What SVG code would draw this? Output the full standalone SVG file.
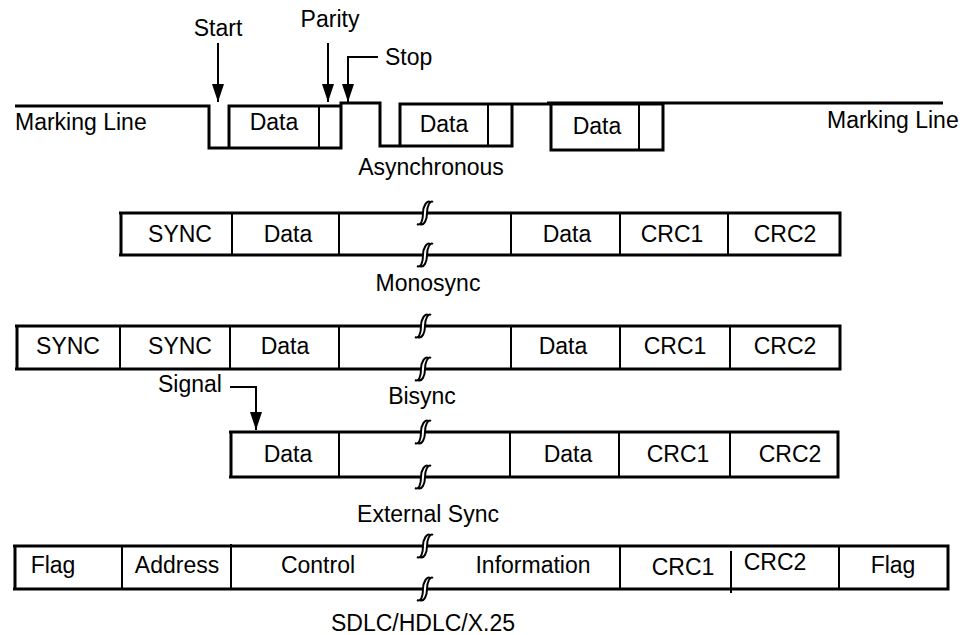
<svg xmlns="http://www.w3.org/2000/svg" width="965" height="635" viewBox="0 0 965 635">
<defs>
<style>
text{font-family:"Liberation Sans",Arial,sans-serif;font-size:23px;fill:#000}
.m{text-anchor:middle}
.w{fill:none;stroke:#000;stroke-width:3}
.f{fill:none;stroke:#000;stroke-width:3}
.d{fill:none;stroke:#000;stroke-width:2}
.a{fill:none;stroke:#000;stroke-width:2}
</style>
<marker id="ah" markerUnits="userSpaceOnUse" markerWidth="18" markerHeight="12" refX="18" refY="6" orient="auto" viewBox="0 0 18 12">
<path d="M0,0 L18,6 L0,12 Z" fill="#000"/>
</marker>
<g id="brk">
<path d="M-8,11 C-4,13 -2,7 -2,0 C-2,-7 2,-13 5,-11 L8,-11 C5,-13 2,-7 2,0 C2,7 -1,13 -5,11 Z" fill="#fff"/>
<path d="M-8,11 C-4,13 -2,7 -2,0 C-2,-7 2,-13 5,-11 M-5,11 C-1,13 2,7 2,0 C2,-7 5,-13 8,-11" fill="none" stroke="#000" stroke-width="2"/>
</g>
</defs>
<rect width="965" height="635" fill="#fff"/>

<g id="async">
<path class="w" d="M15,106 H209 V148 H341 V103 H380 V146 H400"/>
<path class="w" d="M229,148 V106 H341"/>
<path class="d" d="M319,106 V148"/>
<path class="w" d="M400,146 V104 H663 M400,146 H512 V104"/>
<path class="d" d="M488,104 V146"/>
<path class="w" d="M551,104 V150 H663 V104 M547,103 H943"/>
<path class="d" d="M639,104 V150"/>
<text x="15" y="130">Marking Line</text>
<text x="827" y="128">Marking Line</text>
<text class="m" x="274" y="130">Data</text>
<text class="m" x="444" y="132">Data</text>
<text class="m" x="597" y="134">Data</text>
<text class="m" x="431" y="175">Asynchronous</text>
</g>

<g id="labels">
<text class="m" x="218" y="36">Start</text>
<text class="m" x="330" y="27">Parity</text>
<text x="385" y="65">Stop</text>
<text x="158" y="392">Signal</text>
</g>

<g id="connectors">
<path class="a" d="M218,43 V102" marker-end="url(#ah)"/>
<path class="a" d="M328,43 V102" marker-end="url(#ah)"/>
<path class="a" d="M378,57 H348 V102" marker-end="url(#ah)"/>
<path class="a" d="M230,387 H256 V430" marker-end="url(#ah)"/>
</g>

<g id="monosync">
<path class="f" d="M119,213 H840 V255 H119 M121,213 V255"/>
<path class="d" d="M232,213 V255 M339,213 V255 M511,213 V255 M620,213 V255 M728,213 V255"/>
<use href="#brk" x="425" y="213"/>
<use href="#brk" x="425" y="255"/>
<text class="m" x="180" y="242">SYNC</text>
<text class="m" x="288" y="242">Data</text>
<text class="m" x="567" y="242">Data</text>
<text class="m" x="672" y="242">CRC1</text>
<text class="m" x="785" y="242">CRC2</text>
<text class="m" x="428" y="291">Monosync</text>
</g>

<g id="bisync">
<path class="f" d="M15,326 H840 V369 H15 M17,326 V369"/>
<path class="d" d="M120,326 V369 M230,326 V369 M339,326 V369 M511,326 V369 M620,326 V369 M730,326 V369"/>
<use href="#brk" x="423" y="326"/>
<use href="#brk" x="423" y="369"/>
<text class="m" x="68" y="354">SYNC</text>
<text class="m" x="180" y="354">SYNC</text>
<text class="m" x="285" y="354">Data</text>
<text class="m" x="563" y="354">Data</text>
<text class="m" x="675" y="354">CRC1</text>
<text class="m" x="785" y="354">CRC2</text>
<text class="m" x="422" y="404">Bisync</text>
</g>

<g id="extsync">
<path class="f" d="M229,432 H838 V477 H229 M231,432 V477"/>
<path class="d" d="M339,432 V477 M510,432 V477 M619,432 V477 M730,432 V477"/>
<use href="#brk" x="423" y="432"/>
<use href="#brk" x="423" y="477"/>
<text class="m" x="288" y="462">Data</text>
<text class="m" x="568" y="462">Data</text>
<text class="m" x="678" y="462">CRC1</text>
<text class="m" x="790" y="462">CRC2</text>
<text class="m" x="428" y="522">External Sync</text>
</g>

<g id="sdlc">
<path class="f" d="M13,546 H948 V589 H13 M15,546 V589"/>
<path class="d" d="M122,546 V589 M231,544 V589 M620,546 V589 M731,551 V593 M839,546 V589"/>
<use href="#brk" x="425" y="546"/>
<use href="#brk" x="425" y="589"/>
<text class="m" x="53" y="573">Flag</text>
<text class="m" x="177" y="573">Address</text>
<text class="m" x="318" y="573">Control</text>
<text class="m" x="533" y="573">Information</text>
<text class="m" x="683" y="575">CRC1</text>
<text class="m" x="775" y="570">CRC2</text>
<text class="m" x="893" y="573">Flag</text>
<text class="m" x="423" y="631">SDLC/HDLC/X.25</text>
</g>
</svg>
